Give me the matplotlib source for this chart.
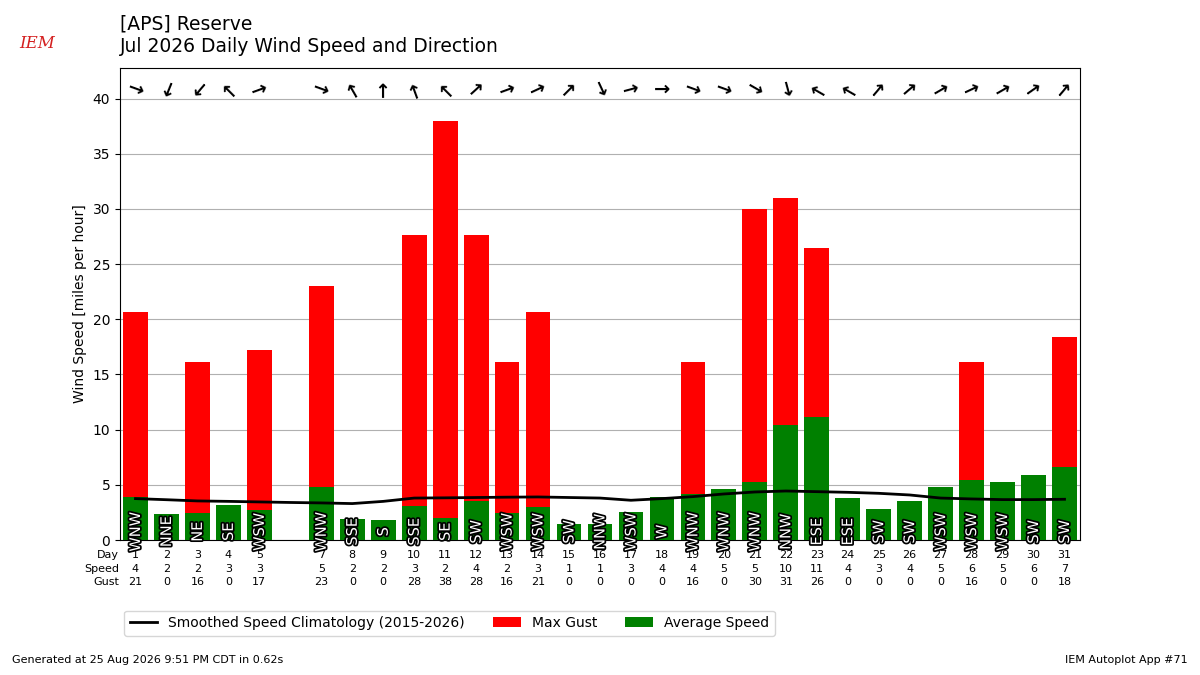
import matplotlib
matplotlib.use("Agg")
import matplotlib.pyplot as plt
import matplotlib.patheffects as pe
import numpy as np

days = [1, 2, 3, 4, 5, 7, 8, 9, 10, 11, 12, 13, 14, 15, 16, 17, 18, 19, 20,
        21, 22, 23, 24, 25, 26, 27, 28, 29, 30, 31]
avg_speed = [3.9, 2.4, 2.45, 3.2, 2.7, 4.8, 1.9, 1.8, 3.1, 2.0, 3.5, 2.45, 3.0,
             1.45, 1.45, 2.55, 3.9, 4.2, 4.6, 5.3, 10.4, 11.1, 3.8, 2.8, 3.5,
             4.8, 5.45, 5.25, 5.9, 6.6]
max_gust = [20.7, 0, 16.1, 0, 17.2, 23.0, 0, 0, 27.6, 38.0, 27.6, 16.1, 20.7,
            0, 0, 0, 0, 16.1, 0, 30.0, 31.0, 26.5, 0, 0, 0, 0, 16.1, 0, 0, 18.4]
speed_label = [4, 2, 2, 3, 3, 5, 2, 2, 3, 2, 4, 2, 3, 1, 1, 3, 4, 4, 5, 5, 10,
               11, 4, 3, 4, 5, 6, 5, 6, 7]
gust_label = [21, 0, 16, 0, 17, 23, 0, 0, 28, 38, 28, 16, 21, 0, 0, 0, 0, 16,
              0, 30, 31, 26, 0, 0, 0, 0, 16, 0, 0, 18]
dir_text = ["WNW", "NNE", "NE", "SE", "WSW", "WNW", "SSE", "S", "SSE", "SE",
            "SW", "WSW", "WSW", "SW", "NNW", "WSW", "W", "WNW", "WNW", "WNW",
            "NNW", "ESE", "ESE", "SW", "SW", "WSW", "WSW", "WSW", "SW", "SW"]
dir_deg = [290, 22, 40, 135, 250, 290, 150, 180, 160, 135, 228, 250, 245,
           225, 335, 255, 270, 290, 290, 300, 345, 120, 120, 220, 230, 240,
           245, 240, 235, 220]
clim_days = list(range(1, 32))
clim_speed = [3.75, 3.65, 3.54, 3.5, 3.45, 3.4, 3.36, 3.3, 3.5, 3.8, 3.82,
              3.85, 3.88, 3.9, 3.85, 3.8, 3.6, 3.75, 3.93, 4.17, 4.35, 4.44,
              4.38, 4.32, 4.23, 4.08, 3.8, 3.72, 3.66, 3.66, 3.69]

plt.rcParams['font.family'] = ['DejaVu Sans']
fig = plt.figure(figsize=(12, 6.75), dpi=100)
ax = fig.add_axes([0.1, 0.2, 0.8, 0.699])

b_gust = ax.bar(days, max_gust, width=0.8, color='red', label='Max Gust', zorder=2)
b_avg = ax.bar(days, avg_speed, width=0.8, color='green', label='Average Speed', zorder=3)
l_clim, = ax.plot(clim_days, clim_speed, color='black', lw=2,
                  label='Smoothed Speed Climatology (2015-2026)', zorder=4)

ymax = max(max_gust) * 1.125
ax.set_ylim(0, ymax)
ax.set_xlim(0.5, 31.5)
ax.set_yticks(range(0, 41, 5))
ax.yaxis.grid(True, color='#b0b0b0', lw=0.8)
ax.set_axisbelow(True)
ax.set_xticks([])
ax.set_ylabel('Wind Speed [miles per hour]')
ax.tick_params(axis='y', labelsize=10)

for d, t, deg in zip(days, dir_text, dir_deg):
    ax.text(d, 0.75, t, rotation=90, ha='center', va='center', fontsize=10.5,
            color='white', zorder=6,
            path_effects=[pe.withStroke(linewidth=2.5, foreground='black')])
    ang = 270 - deg  # direction the wind blows toward
    ax.text(d, ymax - 1.9, '→', rotation=ang, rotation_mode='anchor',
            ha='center', va='center', fontsize=14, color='black', zorder=6,
            fontweight='bold')

trans = ax.get_xaxis_transform()
for d, s, g in zip(days, speed_label, gust_label):
    ax.text(d, -0.022, f"{d}\n{s}\n{g}", transform=trans, ha='center',
            va='top', fontsize=8, linespacing=1.4)
ax.text(0.47, -0.022, "Day\nSpeed\nGust", transform=trans, ha='right',
        va='top', fontsize=8, linespacing=1.4)

ax.legend([l_clim, b_gust, b_avg],
          ['Smoothed Speed Climatology (2015-2026)', 'Max Gust', 'Average Speed'],
          loc='upper center', bbox_to_anchor=(0.343, -0.135), ncol=3,
          fontsize=10)

fig.text(0.1, 0.978, "[APS] Reserve\nJul 2026 Daily Wind Speed and Direction",
         fontsize=13.5, ha='left', va='top', linespacing=1.2)
fig.text(0.01, 0.015, "Generated at 25 Aug 2026 9:51 PM CDT in 0.62s",
         fontsize=8, ha='left', va='bottom')
fig.text(0.99, 0.015, "IEM Autoplot App #71", fontsize=8, ha='right',
         va='bottom')
fig.text(0.031, 0.935, "IEM", fontsize=12, color='#d42020', family='serif',
         style='italic', ha='center', va='center')

fig.savefig('out.png', dpi=100)
